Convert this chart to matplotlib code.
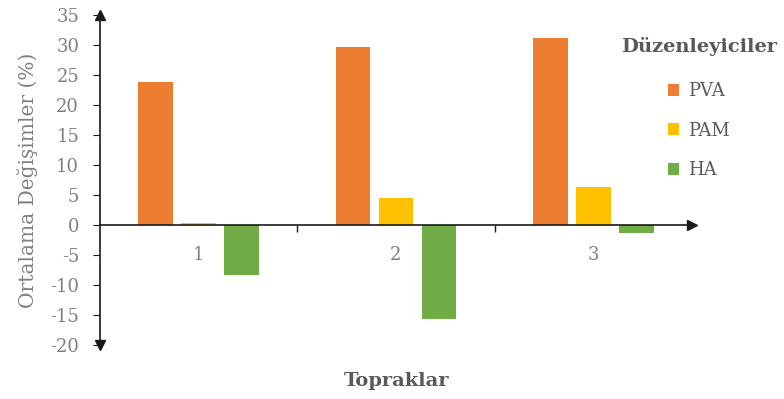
import matplotlib
matplotlib.use("Agg")
import matplotlib.pyplot as plt
from matplotlib.patches import Patch
import numpy as np

categories = ["1", "2", "3"]
pva = [23.9, 29.7, 31.2]
pam = [0.4, 4.55, 6.4]
ha = [-8.3, -15.6, -1.3]
series_names = ["PVA", "PAM", "HA"]
colors = ["#ED7D31", "#FFC000", "#70AD47"]
yticks = list(range(-20, 36, 5))

plt.rcParams['font.family'] = ['DejaVu Serif']
plt.rcParams['axes.unicode_minus'] = False
gray = "#808080"
dark = "#595959"

fig = plt.figure(figsize=(7.84, 3.99), dpi=100)
ax = fig.add_axes([100/784, 1-345/399, (692-100)/784, (345-15)/399])

x = np.arange(1, len(categories) + 1)
width = 0.175
offsets = [-0.218, 0.0, 0.218]
for vals, off, c, name in zip([pva, pam, ha], offsets, colors, series_names):
    ax.bar(x + off, vals, width=width, color=c, label=name, zorder=2)

ax.set_xlim(0.5, 3.5)
ax.set_ylim(-20, 35)
ax.set_yticks(yticks)
ax.set_yticklabels([str(t) for t in yticks])

ax.spines['top'].set_visible(False)
ax.spines['right'].set_visible(False)
ax.spines['bottom'].set_position(('data', 0))
for s in ['left', 'bottom']:
    ax.spines[s].set_color('#1a1a1a')
    ax.spines[s].set_linewidth(1.2)
    ax.spines[s].set_zorder(3)

ax.set_xticks(x)
ax.set_xticklabels(categories)
ax.set_xticks([1.5, 2.5], minor=True)
ax.tick_params(axis='x', which='major', length=0, pad=15, labelsize=13, labelcolor=gray)
ax.tick_params(axis='x', which='minor', length=5, direction='out', color='#1a1a1a', width=1)
ax.tick_params(axis='y', length=5, direction='out', labelsize=13, labelcolor=gray, color='#1a1a1a', pad=10)

# arrowheads
ax.plot(1, 0, marker='>', color='#1a1a1a', markersize=7, transform=ax.get_yaxis_transform(), clip_on=False, zorder=4)
ax.plot(0, 1, marker='^', color='#1a1a1a', markersize=7, transform=ax.transAxes, clip_on=False, zorder=4)
ax.plot(0, 0, marker='v', color='#1a1a1a', markersize=7, transform=ax.transAxes, clip_on=False, zorder=4)

ax.set_ylabel("Ortalama Değişimler (%)", fontsize=14.5, color=gray, labelpad=9)
fig.text(397/784, 1-381/399, "Topraklar", ha='center', va='center', fontsize=14, fontweight='bold', color=dark)

handles = [Patch(facecolor=c, edgecolor='none') for c in colors]
leg = fig.legend(handles, series_names, loc='upper center', bbox_to_anchor=(699/784, 1-21/399),
                 frameon=False, title="Düzenleyiciler", fontsize=13,
                 handlelength=0.65, handleheight=0.65, handletextpad=0.5, labelspacing=1.2)
leg.get_title().set_fontweight('bold')
leg.get_title().set_fontsize(14)
leg.get_title().set_color(dark)
for t in leg.get_texts():
    t.set_color(dark)
if hasattr(leg, "_legend_box") and hasattr(leg._legend_box, "sep"):
    leg._legend_box.sep = leg._legend_box.sep + 3

fig.savefig("out.png", dpi=100)
